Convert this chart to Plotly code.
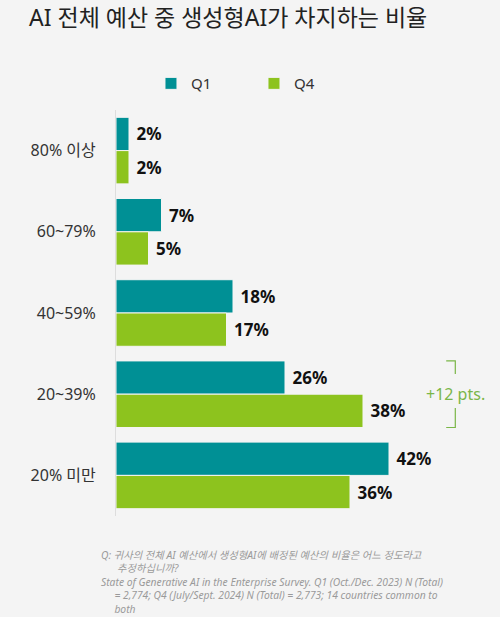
import plotly.graph_objects as go

categorias = ['80% 이상', '60~79%', '40~59%', '20~39%', '20% 미만']
q1 = [2, 7, 18, 26, 42]
q4 = [2, 5, 17, 38, 36]
series = ['Q1', 'Q4']

titulo = 'AI 전체 예산 중 생성형AI가 차지하는 비율'
nota_q = ('<i>Q: 귀사의 전체 AI 예산에서 생성형AI에 배정된 예산의 비율은 어느 정도라고<br>'
          '\u00a0\u00a0\u00a0\u00a0\u00a0\u00a0추정하십니까?</i>')
nota_src = ('<i>State of Generative AI in the Enterprise Survey. Q1 (Oct./Dec. 2023) N (Total)<br>'
            '\u00a0\u00a0\u00a0\u00a0\u00a0= 2,774; Q4 (July/Sept. 2024) N (Total) = 2,773; 14 countries common to<br>'
            '\u00a0\u00a0\u00a0\u00a0\u00a0both</i>')

fuente = 'Noto Sans, Noto Sans CJK KR, sans-serif'
colores = ['#009095', '#8dc31e']

fig = go.Figure()
for nombre, valores, color in zip(series, [q1, q4], colores):
    fig.add_trace(go.Bar(
        name=nombre, y=categorias, x=valores, orientation='h',
        marker=dict(color=color, line=dict(color='#f4f4f4', width=1)),
        text=valores, texttemplate='\u00a0%{x}%', textposition='outside',
        textfont=dict(size=17, color='#111111', family=fuente, weight='bold'),
        cliponaxis=False,
    ))

# llave de diferencia en 20~39%
i = categorias.index('20~39%')
dif = q4[i] - q1[i]
verde = '#7ab648'
fig.add_shape(type='path', xref='x', yref='y',
              path=f'M 50.8 {i-0.41} L 52.2 {i-0.41} L 52.2 {i-0.25}',
              line=dict(color=verde, width=1.2))
fig.add_shape(type='path', xref='x', yref='y',
              path=f'M 52.2 {i+0.17} L 52.2 {i+0.41} L 50.8 {i+0.41}',
              line=dict(color=verde, width=1.2))
fig.add_annotation(x=52.2, y=i, xref='x', yref='y', text=f'+{dif} pts.',
                   showarrow=False, font=dict(size=16, color=verde, family=fuente))

fig.add_annotation(x=-0.045, y=-0.074, xref='paper', yref='paper', text=nota_q,
                   showarrow=False, xanchor='left', yanchor='top', align='left',
                   font=dict(size=10.3, color='#9a9a9a', family=fuente))
fig.add_annotation(x=-0.045, y=-0.14, xref='paper', yref='paper', text=nota_src,
                   showarrow=False, xanchor='left', yanchor='top', align='left',
                   font=dict(size=10.3, color='#9a9a9a', family=fuente))

fig.update_layout(
    width=500, height=617,
    paper_bgcolor='#f4f4f4', plot_bgcolor='#f4f4f4',
    font=dict(family=fuente, color='#333333'),
    title=dict(text=titulo, x=0.058, xanchor='left', y=0.971, yanchor='middle',
               font=dict(size=23, color='#222222')),
    margin=dict(l=116, r=7, t=110, b=101),
    barmode='group', bargap=0.18, bargroupgap=0,
    showlegend=True,
    legend=dict(orientation='h', x=0.366, xanchor='center', y=1.065, yanchor='middle',
                font=dict(size=15, color='#333333'), entrywidth=58,
                bgcolor='rgba(0,0,0,0)'),
    xaxis=dict(range=[0, 58], visible=False),
    yaxis=dict(autorange='reversed', showline=True, linecolor='#dddddd', linewidth=1,
               ticks='', tickfont=dict(size=16, color='#333333'),
               ticklabelstandoff=16, showgrid=False),
)

fig.write_html('out.html', config={'displayModeBar': False},
               post_script="document.body.style.margin='0';")
